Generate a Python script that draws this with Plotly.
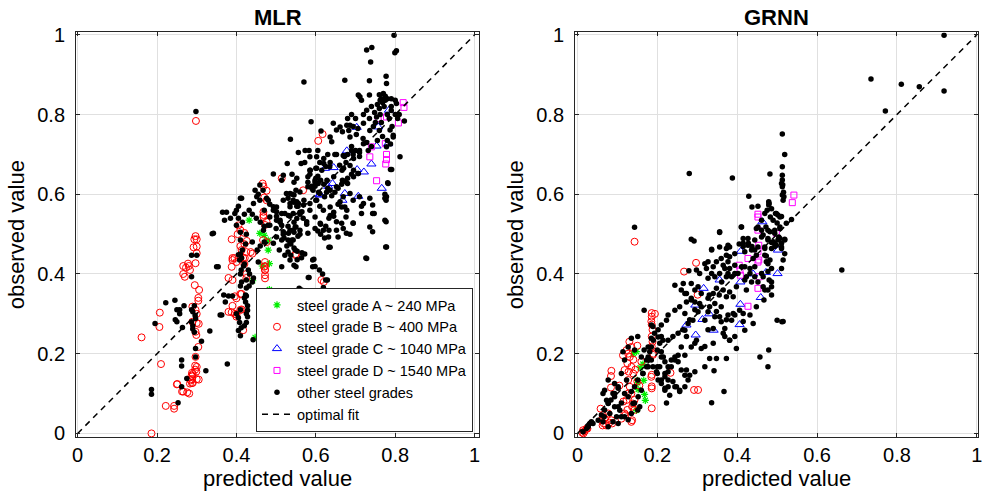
import plotly.graph_objects as go

# ---------------- data (predicted, observed) ----------------
tick_vals = [0, 0.2, 0.4, 0.6, 0.8, 1]
tick_text = ["0", "0.2", "0.4", "0.6", "0.8", "1"]
panel_titles = ["MLR", "GRNN"]
legend_names = ["steel grade A ~ 240 MPa", "steel grade B ~ 400 MPa",
                "steel grade C ~ 1040 MPa", "steel grade D ~ 1540 MPa",
                "other steel grades", "optimal fit"]
fit_line = [0, 1]

mlr_A = [(0.432,0.535),(0.459,0.502),(0.47,0.497),(0.48,0.485),(0.48,0.46),(0.483,0.426),
         (0.465,0.42),(0.441,0.383),(0.483,0.361),(0.486,0.305),(0.447,0.241)]

mlr_B = [(0.161,0.241),(0.207,0.303),(0.206,0.267),(0.21,0.174),(0.186,0.0),(0.222,0.069),(0.243,0.069),
         (0.243,0.062),(0.25,0.123),(0.266,0.105),(0.281,0.10),(0.283,0.125),(0.285,0.133),(0.287,0.145),
         (0.288,0.152),(0.296,0.16),(0.296,0.17),(0.305,0.135),(0.29,0.127),(0.266,0.40),(0.266,0.42),
         (0.28,0.42),(0.283,0.41),(0.292,0.467),(0.294,0.487),(0.297,0.495),(0.30,0.487),(0.30,0.469),
         (0.30,0.452),(0.278,0.426),(0.273,0.416),(0.27,0.393),(0.297,0.427),(0.295,0.372),(0.306,0.36),
         (0.304,0.34),(0.304,0.333),(0.289,0.318),(0.297,0.31),(0.30,0.30),(0.289,0.28),(0.30,0.277),
         (0.305,0.275),(0.297,0.255),(0.299,0.247),(0.304,0.217),(0.297,0.192),(0.30,0.167),(0.299,0.155),
         (0.29,0.149),(0.289,0.143),(0.288,0.136),(0.288,0.126),(0.30,0.136),(0.251,0.124),(0.263,0.105),
         (0.276,0.103),(0.388,0.487),(0.42,0.503),(0.41,0.47),(0.42,0.475),(0.425,0.455),(0.39,0.44),
         (0.395,0.44),(0.41,0.44),(0.42,0.425),(0.425,0.40),(0.425,0.39),(0.41,0.35),(0.388,0.304),
         (0.40,0.298),(0.40,0.293),(0.41,0.31),(0.472,0.43),(0.472,0.41),(0.472,0.42),(0.472,0.236),
         (0.549,0.45),(0.466,0.627),(0.468,0.62),(0.476,0.609),(0.47,0.592),(0.476,0.585),(0.468,0.556),
         (0.468,0.548),(0.468,0.543),(0.476,0.531),(0.472,0.523),(0.405,0.522),(0.41,0.51),(0.403,0.50),
         (0.426,0.483),(0.436,0.455),(0.44,0.451),(0.413,0.46),(0.39,0.435),(0.40,0.43),(0.388,0.418),
         (0.417,0.44),(0.421,0.44),(0.467,0.485),(0.476,0.48),(0.47,0.418),(0.472,0.41),(0.472,0.397),
         (0.472,0.389),(0.39,0.385),(0.38,0.39),(0.396,0.344),(0.413,0.35),(0.40,0.339),(0.38,0.305),
         (0.396,0.30),(0.413,0.311),(0.514,0.64),(0.298,0.784),(0.606,0.734),(0.617,0.751),(0.568,0.61),
         (0.55,0.447),(0.614,0.385),(0.62,0.38),(0.417,0.259),(0.39,0.32)]

mlr_C = [(0.703,0.768),(0.784,0.811),(0.757,0.769),(0.753,0.721),(0.782,0.727),(0.678,0.709),(0.74,0.676),
         (0.721,0.656),(0.704,0.662),(0.642,0.627),(0.631,0.62),(0.61,0.60),(0.673,0.602),(0.667,0.585),
         (0.707,0.595),(0.766,0.615),(0.623,0.665),(0.645,0.667),(0.61,0.598)]

mlr_D = [(0.82,0.83),(0.822,0.818),(0.808,0.779),(0.778,0.794),(0.757,0.79),(0.74,0.719),(0.775,0.727),
         (0.778,0.70),(0.778,0.687),(0.776,0.676),(0.736,0.694),(0.753,0.634)]

mlr_other = [
    (0.797,0.999),(0.799,0.955),(0.803,0.96),(0.741,0.968),(0.728,0.962),(0.738,0.932),(0.673,0.886),
    (0.57,0.882),(0.735,0.885),(0.777,0.896),(0.778,0.878),(0.298,0.808),
    (0.711,0.845),(0.715,0.836),(0.735,0.849),(0.76,0.85),(0.77,0.853),(0.775,0.846),(0.762,0.836),
    (0.775,0.836),(0.768,0.83),(0.772,0.82),(0.78,0.8),(0.8,0.836),(0.803,0.828),(0.823,0.784),(0.81,0.8),
    (0.806,0.79),(0.787,0.761),(0.795,0.748),(0.812,0.694),(0.788,0.662),(0.782,0.627),(0.778,0.594),
    (0.777,0.585),(0.777,0.531),(0.778,0.468),(0.707,0.849),(0.728,0.811),(0.753,0.794),(0.72,0.778),
    (0.678,0.773),(0.652,0.761),(0.686,0.744),(0.72,0.727),(0.778,0.719),(0.795,0.744),(0.644,0.778),
    (0.661,0.769),(0.667,0.757),(0.686,0.773),(0.694,0.77),(0.706,0.765),(0.683,0.76),(0.702,0.75),
    (0.719,0.74),(0.736,0.76),(0.745,0.77),(0.748,0.805),(0.74,0.82),(0.76,0.815),(0.79,0.81),(0.785,0.79),
    (0.765,0.78),(0.69,0.72),(0.7,0.71),(0.71,0.705),(0.68,0.7),(0.672,0.695),(0.695,0.69),(0.71,0.695),
    (0.676,0.68),(0.686,0.672),(0.67,0.665),(0.695,0.66),(0.707,0.652),(0.76,0.76),(0.768,0.745),
    (0.755,0.735),(0.78,0.735),(0.788,0.726),(0.728,0.73),(0.74,0.72),(0.732,0.71),(0.636,0.68),
    (0.625,0.67),(0.615,0.66),(0.605,0.645),(0.598,0.63),(0.59,0.615),(0.63,0.70),(0.648,0.70),(0.605,0.71),
    (0.62,0.69),(0.585,0.66),(0.6,0.665),(0.61,0.68),(0.583,0.71),(0.573,0.71),(0.588,0.782),(0.536,0.738),
    (0.556,0.705),(0.528,0.677),(0.613,0.759),(0.636,0.744),(0.64,0.732),(0.493,0.651),(0.518,0.648),
    (0.413,0.59),(0.342,0.502),
    (0.585,0.694),(0.602,0.694),(0.652,0.70),(0.669,0.697),(0.69,0.71),(0.694,0.70),(0.71,0.71),
    (0.563,0.677),(0.572,0.68),(0.586,0.66),(0.602,0.665),(0.62,0.677),(0.635,0.669),(0.66,0.673),
    (0.666,0.66),(0.552,0.64),(0.58,0.644),(0.598,0.635),(0.606,0.627),(0.628,0.635),(0.645,0.644),
    (0.667,0.635),(0.68,0.627),(0.695,0.644),(0.706,0.652),(0.526,0.602),(0.545,0.598),(0.56,0.606),
    (0.58,0.619),(0.593,0.61),(0.61,0.602),(0.622,0.594),(0.636,0.61),(0.652,0.619),(0.669,0.594),
    (0.686,0.602),(0.71,0.594),(0.736,0.59),(0.501,0.568),(0.518,0.585),(0.535,0.577),(0.552,0.581),
    (0.569,0.573),(0.585,0.577),(0.602,0.585),(0.619,0.56),(0.636,0.568),(0.661,0.581),(0.673,0.568),
    (0.694,0.585),(0.72,0.577),(0.743,0.573),(0.484,0.543),(0.501,0.556),(0.51,0.535),(0.531,0.547),
    (0.552,0.539),(0.565,0.556),(0.577,0.531),(0.598,0.543),(0.611,0.527),(0.636,0.547),(0.652,0.531),
    (0.676,0.543),(0.694,0.527),(0.715,0.552),(0.743,0.552),(0.774,0.535),(0.468,0.51),(0.484,0.522),
    (0.5,0.514),(0.518,0.506),(0.531,0.502),(0.548,0.518),(0.56,0.51),(0.58,0.502),(0.598,0.514),
    (0.619,0.51),(0.632,0.493),(0.652,0.51),(0.677,0.502),
    (0.514,0.635),(0.535,0.602),(0.543,0.585),(0.535,0.569),(0.556,0.577),(0.493,0.569),(0.514,0.552),
    (0.522,0.552),(0.543,0.552),(0.501,0.535),(0.48,0.522),(0.514,0.522),(0.535,0.51),(0.543,0.51),
    (0.55,0.518),(0.501,0.493),(0.493,0.477),(0.514,0.485),(0.535,0.477),(0.548,0.46),(0.508,0.46),
    (0.522,0.447),(0.535,0.435),(0.55,0.418),(0.514,0.418),(0.459,0.585),(0.455,0.6),(0.447,0.61),
    (0.48,0.585),(0.47,0.56),(0.459,0.623),(0.467,0.61),(0.451,0.594),(0.443,0.577),
    (0.41,0.59),(0.396,0.552),(0.405,0.54),(0.4,0.522),(0.41,0.505),(0.41,0.485),(0.423,0.475),(0.415,0.46),
    (0.405,0.448),(0.408,0.435),(0.418,0.42),(0.412,0.41),(0.423,0.347),(0.423,0.33),(0.428,0.309),
    (0.428,0.293),(0.359,0.297),(0.35,0.418),(0.339,0.501),(0.368,0.347),(0.372,0.33),(0.40,0.56),
    (0.405,0.57),(0.42,0.55),(0.415,0.53),(0.425,0.5),(0.385,0.54),(0.375,0.555),(0.37,0.535),(0.365,0.555),
    (0.287,0.447),(0.3,0.447),(0.354,0.418),(0.287,0.393),(0.41,0.45),(0.413,0.44),(0.42,0.425),
    (0.43,0.41),(0.433,0.40),(0.41,0.40),(0.425,0.385),(0.44,0.48),(0.452,0.46),(0.46,0.47),(0.47,0.48),
    (0.455,0.43),(0.52,0.49),(0.53,0.485),(0.537,0.475),(0.545,0.465),(0.553,0.457),(0.565,0.453),
    (0.572,0.45),(0.53,0.455),(0.537,0.447),(0.592,0.435),(0.598,0.419),(0.581,0.391),(0.558,0.364),
    (0.564,0.36),(0.592,0.354),(0.596,0.32),(0.545,0.422),(0.609,0.41),(0.617,0.40),(0.619,0.366),
    (0.623,0.297),(0.629,0.385),(0.669,0.303),(0.728,0.439),(0.73,0.347),(0.776,0.468),(0.636,0.467),
    (0.363,0.297),(0.333,0.257),(0.312,0.231),(0.323,0.157),(0.297,0.213),(0.297,0.192),(0.29,0.27),
    (0.29,0.262),(0.294,0.254),(0.287,0.28),(0.297,0.288),(0.296,0.296),(0.29,0.305),(0.287,0.31),
    (0.294,0.32),(0.268,0.32),(0.257,0.31),(0.25,0.31),(0.246,0.285),(0.25,0.28),(0.257,0.30),
    (0.222,0.328),(0.195,0.276),(0.264,0.266),(0.262,0.184),(0.262,0.169),(0.275,0.138),(0.262,0.117),
    (0.253,0.077),(0.186,0.11),(0.186,0.098),(0.245,0.334),(0.377,0.174),(0.40,0.30),(0.41,0.31),
    (0.405,0.29),(0.408,0.278),(0.42,0.27),(0.425,0.278),(0.425,0.30),(0.428,0.32),(0.42,0.34),
    (0.425,0.345),(0.425,0.365),(0.41,0.37),(0.413,0.38),(0.432,0.37),(0.44,0.38),(0.443,0.39),
    (0.39,0.345),(0.38,0.345),(0.472,0.309),(0.472,0.293),(0.472,0.255),(0.467,0.347),(0.442,0.235),
    (0.41,0.245),(0.405,0.258),(0.412,0.265),
    (0.54,0.65),(0.545,0.63),(0.55,0.61),(0.54,0.6),(0.53,0.59),(0.545,0.58),(0.555,0.57),(0.56,0.55),
    (0.535,0.545),(0.545,0.53),(0.53,0.52),(0.545,0.505),(0.555,0.495),(0.54,0.485),(0.585,0.65),
    (0.6,0.64),(0.612,0.635),(0.62,0.625),(0.598,0.62),(0.63,0.615),(0.607,0.605),(0.627,0.605),
    (0.64,0.596),(0.648,0.605),(0.656,0.615),(0.665,0.625),(0.673,0.633),(0.68,0.64),(0.69,0.65),
    (0.656,0.575),(0.665,0.568),(0.678,0.56),(0.645,0.555),(0.633,0.54),(0.612,0.525),(0.625,0.52),
    (0.605,0.508),(0.612,0.5),(0.622,0.49),(0.633,0.51),(0.645,0.545),(0.665,0.527),(0.669,0.514),
    (0.656,0.493),(0.686,0.5),(0.694,0.528),(0.715,0.57),(0.736,0.518),(0.743,0.506),(0.747,0.552),
    (0.726,0.44),(0.667,0.303),(0.621,0.297),(0.564,0.358),(0.583,0.391),(0.592,0.418),(0.625,0.385),
    (0.595,0.437),(0.553,0.436),(0.564,0.441),(0.633,0.467),(0.774,0.6),(0.774,0.59),(0.791,0.662),
    (0.781,0.629),(0.432,0.56),(0.44,0.55),(0.45,0.54),(0.46,0.53),(0.47,0.52),(0.476,0.59),(0.484,0.575),
    (0.493,0.56),(0.501,0.545),(0.51,0.53),(0.518,0.5),(0.552,0.57),(0.56,0.555),(0.568,0.54),
    (0.577,0.525),(0.56,0.5),(0.543,0.485),(0.527,0.47),(0.58,0.63),(0.59,0.62),(0.6,0.585),(0.61,0.57),
    (0.585,0.56),(0.57,0.585),(0.69,0.8),(0.7,0.79),(0.68,0.79),(0.72,0.8),(0.735,0.79),(0.75,0.78),
    (0.762,0.8),(0.755,0.825),(0.765,0.84),(0.78,0.84),(0.79,0.82),(0.8,0.8),(0.792,0.77),(0.79,0.84)]

grnn_A = [(0.148,0.205),(0.14,0.2),(0.179,0.186),(0.164,0.174),(0.15,0.133),(0.151,0.127),(0.166,0.133),
          (0.152,0.11),(0.168,0.098),(0.17,0.083),(0.148,0.058),(0.157,0.165)]

grnn_B = [(0.143,0.481),(0.186,0.302),(0.186,0.293),(0.185,0.281),(0.186,0.273),(0.188,0.26),(0.186,0.243),
          (0.188,0.23),(0.186,0.218),(0.189,0.197),(0.186,0.147),(0.185,0.142),(0.186,0.118),(0.186,0.113),
          (0.186,0.063),(0.085,0.157),(0.084,0.144),(0.084,0.115),(0.11,0.037),(0.12,0.046),(0.137,0.033),
          (0.135,0.029),(0.127,0.134),(0.131,0.117),(0.127,0.1),(0.123,0.084),(0.135,0.1),(0.139,0.075),
          (0.143,0.084),(0.137,0.067),(0.125,0.059),(0.143,0.059),(0.123,0.209),(0.135,0.217),(0.127,0.2),
          (0.131,0.192),(0.114,0.196),(0.125,0.176),(0.135,0.167),(0.118,0.159),(0.085,0.033),(0.068,0.037),
          (0.06,0.033),(0.064,0.046),(0.077,0.05),(0.058,0.062),(0.014,0.008),(0.012,0.002),(0.025,0.012),
          (0.233,0.152),(0.292,0.109),(0.302,0.109),(0.301,0.348),(0.267,0.406),(0.297,0.428),(0.194,0.3),
          (0.066,0.025),(0.072,0.02),(0.063,0.02),(0.087,0.025),(0.08,0.027),(0.015,0.0),(0.018,0.005),
          (0.023,0.012),(0.15,0.13),(0.155,0.12),(0.14,0.15),(0.145,0.16),(0.128,0.155),(0.14,0.185),
          (0.13,0.23),(0.15,0.22),(0.16,0.18),(0.105,0.12),(0.115,0.08),(0.118,0.05),(0.19,0.2)]

grnn_C = [(0.409,0.457),(0.472,0.404),(0.501,0.401),(0.459,0.341),(0.408,0.324),(0.406,0.273),(0.316,0.364),
          (0.313,0.286),(0.341,0.259),(0.296,0.247),(0.273,0.272),(0.408,0.38),(0.502,0.46),(0.463,0.531),
          (0.356,0.385),(0.295,0.322),(0.44,0.40),(0.33,0.3)]

grnn_D = [(0.542,0.598),(0.538,0.579),(0.452,0.55),(0.452,0.543),(0.452,0.51),(0.427,0.439),(0.454,0.472),
          (0.452,0.456),(0.454,0.435),(0.452,0.43),(0.405,0.422),(0.407,0.41),(0.408,0.397),(0.455,0.393),
          (0.452,0.364),(0.427,0.319),(0.498,0.502)]

grnn_other = [
    (0.918,0.999),(0.735,0.889),(0.811,0.876),(0.856,0.87),(0.918,0.859),(0.771,0.809),(0.513,0.751),
    (0.519,0.70),(0.513,0.669),(0.513,0.648),(0.513,0.636),(0.514,0.624),(0.516,0.605),(0.517,0.594),
    (0.28,0.652),(0.388,0.641),(0.482,0.651),(0.429,0.595),(0.143,0.517),(0.285,0.487),(0.356,0.506),
    (0.336,0.462),(0.41,0.518),(0.662,0.41),
    (0.437,0.568),(0.452,0.57),(0.479,0.581),(0.479,0.573),(0.486,0.564),(0.469,0.552),(0.496,0.552),
    (0.502,0.548),(0.511,0.544),(0.49,0.535),(0.5,0.528),(0.507,0.518),(0.461,0.535),(0.452,0.518),
    (0.461,0.51),(0.477,0.51),(0.494,0.502),(0.504,0.493),(0.519,0.485),(0.511,0.477),(0.494,0.469),
    (0.469,0.464),(0.444,0.485),(0.427,0.489),(0.415,0.469),(0.437,0.469),(0.477,0.485),(0.461,0.493),
    (0.486,0.479),(0.536,0.537),
    (0.511,0.627),(0.513,0.619),(0.513,0.598),(0.515,0.585),(0.48,0.577),(0.475,0.56),(0.483,0.543),
    (0.498,0.552),(0.507,0.543),(0.472,0.518),(0.482,0.506),(0.494,0.51),(0.507,0.514),(0.523,0.527),
    (0.448,0.514),(0.465,0.498),(0.477,0.489),(0.49,0.481),(0.507,0.489),(0.519,0.487),(0.469,0.468),
    (0.486,0.464),(0.498,0.472),(0.511,0.468),(0.356,0.504),(0.411,0.518),(0.415,0.489),(0.405,0.475),
    (0.428,0.477),(0.444,0.46),(0.448,0.447),(0.44,0.439),(0.473,0.445),(0.482,0.435),(0.419,0.456),
    (0.381,0.468),(0.356,0.468),(0.373,0.447),(0.377,0.431),(0.365,0.422),(0.348,0.431),(0.34,0.418),
    (0.327,0.431),(0.323,0.414),(0.381,0.414),(0.394,0.401),(0.419,0.418),(0.432,0.414),(0.473,0.431),
    (0.465,0.393),(0.48,0.385),(0.444,0.393),(0.432,0.401),(0.419,0.385),(0.373,0.393),(0.361,0.38),
    (0.348,0.364),(0.365,0.36),(0.381,0.355),(0.398,0.368),(0.39,0.343),(0.373,0.343),(0.355,0.347),
    (0.34,0.351),(0.33,0.347),(0.469,0.36),(0.486,0.368),(0.486,0.347),(0.448,0.318),(0.465,0.368),
    (0.423,0.36),(0.415,0.301),(0.432,0.297),(0.415,0.281),(0.44,0.276),(0.515,0.281),(0.394,0.243),
    (0.419,0.259),(0.381,0.234),(0.365,0.251),(0.34,0.226),(0.319,0.218),(0.298,0.234),(0.273,0.243),
    (0.269,0.259),(0.281,0.285),(0.294,0.31),(0.306,0.326),(0.285,0.335),(0.273,0.351),(0.294,0.36),
    (0.265,0.376),(0.269,0.301),(0.356,0.293),(0.373,0.285),(0.39,0.301),(0.348,0.306),(0.331,0.318),
    (0.292,0.483),(0.336,0.46),(0.319,0.426),(0.36,0.439),(0.373,0.464),(0.377,0.472),(0.381,0.443),
    (0.394,0.451),(0.415,0.477),(0.427,0.472),(0.436,0.46),(0.452,0.468),(0.469,0.447),(0.477,0.426),
    (0.486,0.414),(0.494,0.477),(0.502,0.485),(0.511,0.464),(0.519,0.451),(0.515,0.435),(0.511,0.414),
    (0.477,0.406),(0.461,0.401),(0.444,0.418),(0.411,0.418),(0.394,0.422),(0.369,0.414),(0.356,0.401),
    (0.344,0.393),(0.336,0.401),(0.327,0.389),(0.306,0.401),(0.279,0.408),(0.298,0.41),(0.377,0.401),
    (0.386,0.393),(0.402,0.401),(0.423,0.393),(0.436,0.38),(0.452,0.38),(0.486,0.38),(0.477,0.36),
    (0.467,0.335),(0.5,0.284),(0.512,0.28),(0.479,0.209),(0.457,0.192),(0.477,0.167),
    (0.244,0.372),(0.26,0.36),(0.269,0.351),(0.285,0.339),(0.294,0.33),(0.31,0.318),(0.327,0.305),
    (0.344,0.293),(0.36,0.28),(0.377,0.297),(0.369,0.263),(0.386,0.284),(0.394,0.297),(0.406,0.309),
    (0.36,0.318),(0.344,0.326),(0.327,0.339),(0.31,0.351),(0.302,0.368),(0.285,0.376),(0.273,0.33),
    (0.256,0.318),(0.244,0.309),(0.227,0.297),(0.223,0.284),(0.21,0.272),(0.202,0.26),(0.193,0.251),
    (0.185,0.239),(0.21,0.243),(0.227,0.234),(0.239,0.243),(0.252,0.251),(0.264,0.26),(0.277,0.276),
    (0.289,0.284),(0.302,0.305),(0.319,0.284),(0.327,0.26),(0.34,0.263),(0.369,0.243),(0.381,0.234),
    (0.398,0.213),(0.373,0.188),(0.348,0.188),(0.331,0.188),(0.31,0.213),(0.294,0.226),(0.285,0.217),
    (0.269,0.196),(0.26,0.217),(0.252,0.196),(0.244,0.184),(0.235,0.167),(0.227,0.155),(0.219,0.142),
    (0.21,0.134),(0.227,0.134),(0.244,0.117),(0.256,0.105),(0.269,0.117),(0.281,0.146),(0.273,0.159),
    (0.294,0.155),(0.319,0.167),(0.342,0.157),(0.367,0.105),(0.336,0.077),(0.223,0.076),(0.231,0.096),
    (0.219,0.113),
    (0.167,0.309),(0.151,0.243),(0.135,0.239),(0.127,0.217),(0.114,0.205),(0.118,0.184),(0.143,0.209),
    (0.16,0.192),(0.167,0.209),(0.177,0.217),(0.185,0.184),(0.177,0.167),(0.164,0.15),(0.151,0.134),
    (0.143,0.117),(0.135,0.105),(0.127,0.092),(0.143,0.076),(0.151,0.059),(0.102,0.117),(0.093,0.1),
    (0.084,0.084),(0.077,0.076),(0.068,0.059),(0.081,0.05),(0.06,0.046),(0.052,0.033),(0.039,0.025),
    (0.027,0.017),(0.014,0.004),(0.093,0.067),(0.11,0.076),(0.118,0.1),(0.123,0.134),(0.11,0.15),
    (0.089,0.1),(0.173,0.184),(0.189,0.167),(0.2,0.15),(0.202,0.134),(0.185,0.272),(0.189,0.268),
    (0.214,0.234),(0.2,0.209),(0.21,0.192),(0.2,0.167),
    (0.077,0.134),(0.093,0.125),(0.102,0.113),(0.068,0.108),(0.064,0.1),(0.073,0.083),(0.077,0.075),
    (0.093,0.092),(0.102,0.067),(0.106,0.058),(0.11,0.042),(0.098,0.042),(0.067,0.042),(0.064,0.029),
    (0.077,0.017),(0.089,0.029),(0.102,0.025),(0.031,0.025),(0.023,0.012),(0.035,0.029),(0.118,0.042),
    (0.127,0.034),(0.135,0.05),(0.139,0.075),(0.152,0.092),(0.156,0.067),(0.16,0.108),(0.164,0.15),
    (0.173,0.167),(0.177,0.192),(0.181,0.205),(0.185,0.217),(0.19,0.234),(0.202,0.242),(0.206,0.226),
    (0.21,0.205),(0.215,0.192),(0.219,0.18),(0.206,0.167),(0.198,0.155),(0.219,0.15),(0.227,0.167),
    (0.235,0.184),(0.244,0.192),(0.252,0.18),(0.26,0.159),(0.269,0.146),(0.277,0.134),(0.239,0.13),
    (0.248,0.117),(0.256,0.108),(0.227,0.117),(0.219,0.108),(0.21,0.125)]

# ---------------- styling ----------------
FONT = "Liberation Sans, Arial, Helvetica, sans-serif"
AXC = "#262626"
styles = [
    dict(symbol="asterisk-open", size=6, color="#00ee00", line=dict(color="#00ee00", width=1.2)),
    dict(symbol="circle-open", size=7, color="#ff0000", line=dict(color="#ff0000", width=1)),
    dict(symbol="triangle-up-open", size=8, color="#0000ff", line=dict(color="#0000ff", width=1)),
    dict(symbol="square-open", size=6, color="#ff00ff", line=dict(color="#ff00ff", width=1)),
    dict(symbol="circle", size=5.5, color="#000000", line=dict(width=0)),
]

fig = go.Figure()
panels = [
    ([mlr_A, mlr_B, mlr_C, mlr_D, mlr_other], "x", "y", True),
    ([grnn_A, grnn_B, grnn_C, grnn_D, grnn_other], "x2", "y2", False),
]
for series, xa, ya, show in panels:
    for pts, name, st in zip(series, legend_names[:5], styles):
        xs = [p[0] for p in pts]
        ys = [p[1] for p in pts]
        fig.add_trace(go.Scatter(x=xs, y=ys, mode="markers", name=name, marker=st,
                                 xaxis=xa, yaxis=ya, showlegend=show))
    fig.add_trace(go.Scatter(x=fit_line, y=fit_line, mode="lines", name=legend_names[5],
                             line=dict(color="black", width=1.5, dash="6px,5px"),
                             xaxis=xa, yaxis=ya, showlegend=show))

ydom = [0.1118, 0.934]
axis_common = dict(
    tickvals=tick_vals, ticktext=tick_text, ticks="inside", ticklen=4, tickcolor=AXC,
    showline=True, linecolor=AXC, linewidth=1, mirror="ticks", automargin=False,
    showgrid=True, gridcolor="#e0e0e0", gridwidth=1, zeroline=False,
    tickfont=dict(family=FONT, size=20, color="#000000"),
)

fig.update_layout(
    width=985, height=492, margin=dict(l=0, r=0, t=0, b=0, autoexpand=False),
    paper_bgcolor="white", plot_bgcolor="white",
    font=dict(family=FONT, color="#000000"),
    xaxis=dict(domain=[0.0772, 0.4863], range=[-0.004, 1.011], anchor="y",
               title=dict(text="predicted value", font=dict(size=22), standoff=4), **axis_common),
    yaxis=dict(domain=ydom, range=[-0.009, 1.006], anchor="x", ticklabelstandoff=6,
               title=dict(text="observed value", font=dict(size=22), standoff=6), **axis_common),
    xaxis2=dict(domain=[0.5838, 0.9929], range=[-0.006, 1.003], anchor="y2",
                title=dict(text="predicted value", font=dict(size=22), standoff=4), **axis_common),
    yaxis2=dict(domain=ydom, range=[-0.009, 1.006], anchor="x2", ticklabelstandoff=6,
                title=dict(text="observed value", font=dict(size=22), standoff=6), **axis_common),
    legend=dict(x=0.4802, y=0.122, xanchor="right", yanchor="bottom",
                bgcolor="white", bordercolor=AXC, borderwidth=1,
                font=dict(family=FONT, size=14.5, color="#000000"),
                tracegroupgap=0, itemwidth=30),
    annotations=[
        dict(text="<b>%s</b>" % panel_titles[0], x=(0.0772 + 0.4863) / 2, y=ydom[1], xref="paper",
             yref="paper", xanchor="center", yanchor="bottom", showarrow=False,
             font=dict(family=FONT, size=22), yshift=0),
        dict(text="<b>%s</b>" % panel_titles[1], x=(0.5838 + 0.9929) / 2, y=ydom[1], xref="paper",
             yref="paper", xanchor="center", yanchor="bottom", showarrow=False,
             font=dict(family=FONT, size=22), yshift=0),
    ],
)

fig.write_html("out.html")
